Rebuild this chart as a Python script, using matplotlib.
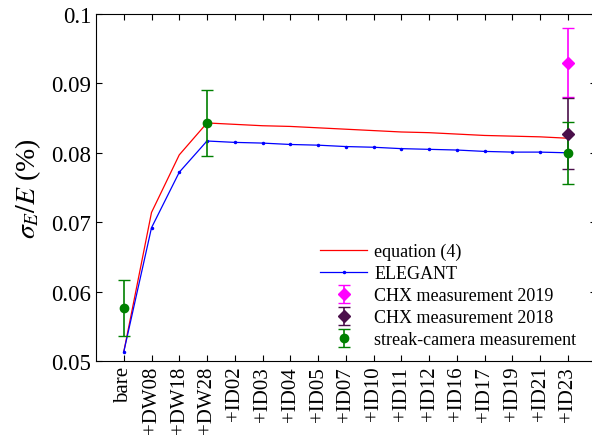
import matplotlib.pyplot as plt

plt.rcParams['font.family'] = ['Liberation Serif', 'DejaVu Serif']
plt.rcParams['mathtext.fontset'] = 'stix'

labels = ['bare', '+DW08', '+DW18', '+DW28', '+ID02', '+ID03', '+ID04', '+ID05',
          '+ID07', '+ID10', '+ID11', '+ID12', '+ID16', '+ID17', '+ID19', '+ID21', '+ID23']

equation4 = [0.0513, 0.0714, 0.0797, 0.0843, 0.0841, 0.0839, 0.0838, 0.0836, 0.0834,
             0.0832, 0.0830, 0.0829, 0.0827, 0.0825, 0.0824, 0.0823, 0.0821]
elegant = [0.0513, 0.0692, 0.0772, 0.0817, 0.0815, 0.0814, 0.0812, 0.0811, 0.0809,
           0.0808, 0.0806, 0.0805, 0.0804, 0.0802, 0.0801, 0.0801, 0.0800]

# measurements: (index, value, lower, upper)
chx2019 = (16, 0.0930, 0.0880, 0.0980)
chx2018 = (16, 0.0827, 0.0777, 0.0879)
streak_x = [0, 3, 16]
streak_y = [0.0576, 0.0843, 0.0800]
streak_lo = [0.0536, 0.0795, 0.0755]
streak_hi = [0.0617, 0.0891, 0.0845]

x = list(range(len(labels)))

fig = plt.figure(figsize=(5.92, 4.39), dpi=100)
ax = fig.add_axes([96 / 592, 77 / 439, 499.5 / 592, 347 / 439])

ax.plot(x, equation4, color='#ff0000', lw=0.9, label='equation (4)')
ax.plot(x, elegant, color='#0000ff', lw=0.9, marker='.', ms=3, label='ELEGANT')

ax.errorbar([chx2019[0]], [chx2019[1]],
            yerr=[[chx2019[1] - chx2019[2]], [chx2019[3] - chx2019[1]]],
            fmt='D', color='#ff00ff', ms=6, capsize=4, elinewidth=1.2,
            label='CHX measurement 2019')
ax.errorbar([chx2018[0]], [chx2018[1]],
            yerr=[[chx2018[1] - chx2018[2]], [chx2018[3] - chx2018[1]]],
            fmt='D', color='#4a0f4a', ms=6, capsize=4, elinewidth=1.2,
            label='CHX measurement 2018')
ax.errorbar(streak_x, streak_y,
            yerr=[[v - lo for v, lo in zip(streak_y, streak_lo)],
                  [hi - v for v, hi in zip(streak_y, streak_hi)]],
            fmt='o', color='#008000', ms=6, capsize=4, elinewidth=1.2,
            label='streak-camera measurement')

ax.set_xlim(-1, 17)
ax.set_ylim(0.05, 0.1)
ax.set_xticks(x)
ax.set_xticklabels(labels, rotation=90, fontsize=15)
ax.set_yticks([0.05, 0.06, 0.07, 0.08, 0.09, 0.1])
ax.set_yticklabels(['0.05', '0.06', '0.07', '0.08', '0.09', '0.1'], fontsize=16.5)
ax.tick_params(direction='in', top=True, right=True, length=4)
ax.set_ylabel(r'$\sigma_E/E$ (%)', fontsize=20, labelpad=6)

ax.legend(loc='lower right', bbox_to_anchor=(0.987, 0.0), frameon=False,
          fontsize=13, handlelength=2.6, handletextpad=0.4,
          labelspacing=0.28, borderaxespad=0.3)

fig.savefig('out.png', dpi=100)
